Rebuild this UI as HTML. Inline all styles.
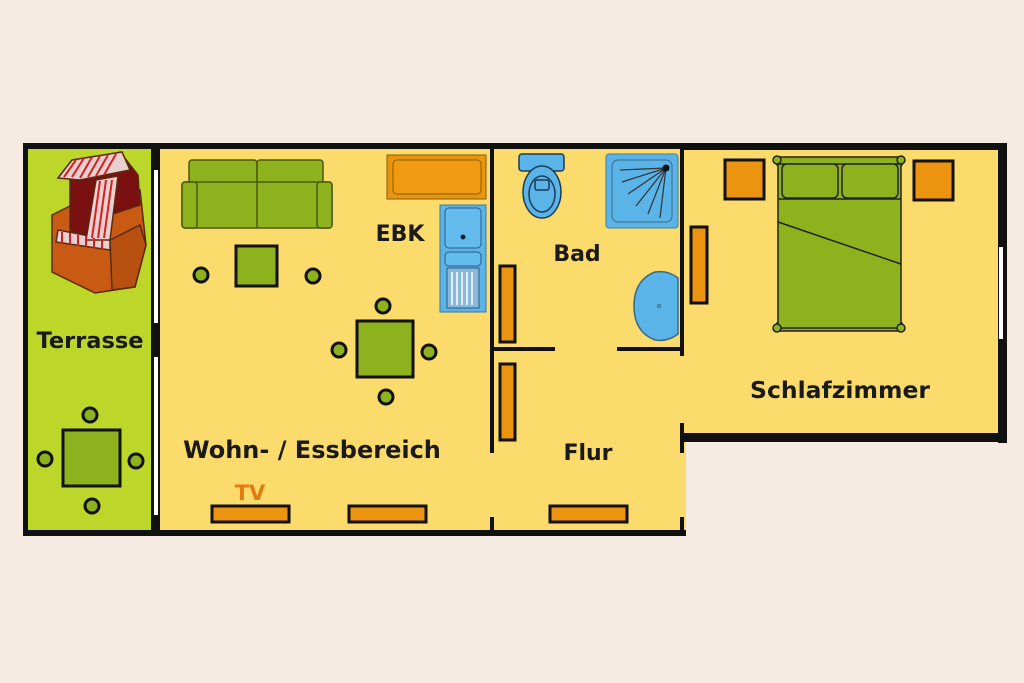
<!DOCTYPE html>
<html><head><meta charset="utf-8"><style>
html,body{margin:0;padding:0;background:#f6ebe3;}
svg{display:block}
text{font-family:"DejaVu Sans","Liberation Sans",sans-serif;font-weight:bold;}
</style></head><body>
<svg width="1024" height="683" viewBox="0 0 1024 683" xmlns="http://www.w3.org/2000/svg">
<rect width="1024" height="683" fill="#f6ebe3"/>
<!-- floors -->
<rect x="24" y="145" width="132" height="390" fill="#bdd62a"/>
<rect x="156" y="148" width="530" height="384" fill="#fbdb6c"/>
<rect x="683" y="148" width="320" height="292" fill="#fbdb6c"/>
<!-- outer walls -->
<g fill="#111">
<rect x="23" y="143" width="663" height="6"/>
<rect x="683" y="143" width="324" height="7"/>
<rect x="23" y="143" width="5" height="393"/>
<rect x="23" y="530" width="663" height="6"/>
<rect x="151" y="143" width="9" height="393"/>
<rect x="998" y="143" width="9" height="300"/>
<rect x="683" y="433" width="324" height="9"/>
<rect x="490" y="148" width="4" height="305"/>
<rect x="490" y="517" width="4" height="16"/>
<rect x="680" y="148" width="4" height="208"/>
<rect x="680" y="423" width="4" height="30"/>
<rect x="680" y="517" width="4" height="16"/>
<rect x="492" y="347" width="63" height="4"/>
<rect x="617" y="347" width="66" height="4"/>
</g>
<!-- windows -->
<rect x="154" y="170" width="4" height="153" fill="#fff"/>
<rect x="154" y="357" width="4" height="158" fill="#fff"/>
<rect x="999" y="247" width="4" height="92" fill="#fff"/>

<!-- beach chair -->
<g stroke="#5a2a10" stroke-width="1.5">
<path d="M52 215 L72 205 L140 190 L146 245 L135 287 L95 293 L52 272 Z" fill="#c85a14"/>
<path d="M70 170 L120 152 L138 175 L140 205 L110 215 L95 245 L70 240 Z" fill="#7a1010"/>
<path d="M58 178 L72 160 L122 152 L130 170 L80 180 Z" fill="#e8d0d0"/>
<path d="M58 230 L110 240 L110 250 L56 242 Z" fill="#e8d0d0"/>
<path d="M96 180 L118 176 L110 240 L86 240 Z" fill="#e8d0d0"/>
<path d="M110 240 L140 225 L146 245 L135 287 L112 290 Z" fill="#b85012"/>
</g>
<g stroke="#d42020" stroke-width="2">
<line x1="64" y1="177" x2="76" y2="160"/><line x1="72" y1="177" x2="84" y2="158"/><line x1="80" y1="178" x2="92" y2="157"/><line x1="88" y1="177" x2="100" y2="156"/><line x1="96" y1="176" x2="108" y2="155"/><line x1="104" y1="175" x2="116" y2="154"/>
<line x1="98" y1="238" x2="106" y2="180"/><line x1="104" y1="238" x2="112" y2="180"/><line x1="92" y1="238" x2="100" y2="181"/>
<line x1="62" y1="232" x2="62" y2="243"/><line x1="70" y1="233" x2="70" y2="244"/><line x1="78" y1="235" x2="78" y2="246"/><line x1="86" y1="236" x2="86" y2="247"/><line x1="94" y1="238" x2="94" y2="248"/><line x1="102" y1="239" x2="102" y2="249"/>
</g>

<!-- terrace table -->
<g fill="#8db21e" stroke="#111" stroke-width="3">
<rect x="63" y="430" width="57" height="56"/>
<circle cx="90" cy="415" r="7"/><circle cx="92" cy="506" r="7"/><circle cx="45" cy="459" r="7"/><circle cx="136" cy="461" r="7"/>
<rect x="236" y="246" width="41" height="40"/>
<circle cx="201" cy="275" r="7"/><circle cx="313" cy="276" r="7"/>
<rect x="357" y="321" width="56" height="56"/>
<circle cx="383" cy="306" r="7"/><circle cx="386" cy="397" r="7"/><circle cx="339" cy="350" r="7"/><circle cx="429" cy="352" r="7"/>
</g>
<!-- sofa -->
<g fill="#8db21e" stroke="#4a5a10" stroke-width="1.5">
<rect x="189" y="160" width="68" height="24" rx="3"/><rect x="257" y="160" width="66" height="24" rx="3"/>
<rect x="182" y="182" width="150" height="46" rx="3"/>
<rect x="182" y="182" width="15" height="46" rx="3"/><rect x="317" y="182" width="15" height="46" rx="3"/>
<line x1="257" y1="182" x2="257" y2="228"/>
</g>
<!-- kitchen -->
<rect x="387" y="155" width="99" height="44" fill="#e8960e" stroke="#8a5a10" stroke-width="1"/>
<rect x="393" y="160" width="88" height="34" rx="4" fill="#ef9a10" stroke="#8a5a10" stroke-width="1"/>
<rect x="440" y="205" width="46" height="107" fill="#5ab4e8" stroke="#3a78a8" stroke-width="1"/>
<rect x="445" y="208" width="36" height="40" rx="4" fill="#64bcee" stroke="#2a5a88"/>
<circle cx="463" cy="237" r="2.5" fill="#123"/>
<rect x="445" y="252" width="36" height="14" rx="4" fill="#64bcee" stroke="#2a5a88"/>
<rect x="447" y="268" width="32" height="40" fill="#8ab8d8" stroke="#2a5a88"/>
<g stroke="#fff" stroke-width="1.5"><line x1="452" y1="272" x2="452" y2="305"/><line x1="457" y1="272" x2="457" y2="305"/><line x1="462" y1="272" x2="462" y2="305"/><line x1="467" y1="272" x2="467" y2="305"/><line x1="472" y1="272" x2="472" y2="305"/></g>

<!-- orange furniture -->
<g fill="#ec9410" stroke="#111" stroke-width="3">
<rect x="212" y="506" width="77" height="16"/>
<rect x="349" y="506" width="77" height="16"/>
<rect x="500" y="266" width="15" height="76"/>
<rect x="500" y="364" width="15" height="76"/>
<rect x="550" y="506" width="77" height="16"/>
<rect x="691" y="227" width="16" height="76"/>
<rect x="725" y="160" width="39" height="39"/>
<rect x="914" y="161" width="39" height="39"/>
</g>

<!-- toilet -->
<g fill="#5ab4e8" stroke="#1a3a58" stroke-width="1.5">
<rect x="519" y="154" width="45" height="17" rx="3"/>
<ellipse cx="542" cy="192" rx="19" ry="26"/>
<ellipse cx="542" cy="194" rx="13" ry="18"/>
<rect x="535" y="180" width="14" height="10" rx="2"/>
</g>
<!-- shower -->
<rect x="606" y="154" width="72" height="74" rx="3" fill="#5ab4e8" stroke="#4a7a9a"/>
<rect x="612" y="160" width="60" height="62" rx="6" fill="none" stroke="#3a6a8a"/>
<g stroke="#333" stroke-width="1.2" fill="none">
<path d="M666 168 L620 170"/><path d="M666 168 L622 182"/><path d="M666 168 L628 194"/><path d="M666 168 L636 206"/><path d="M666 168 L648 214"/><path d="M666 168 L660 218"/>
</g>
<circle cx="666" cy="168" r="3.5" fill="#111"/>
<!-- basin -->
<path d="M678 278 Q668 270 655 272 Q634 280 634 306 Q634 332 655 340 Q668 342 678 334 Z" fill="#5ab4e8" stroke="#3a6a8a" stroke-width="1.5"/>
<circle cx="659" cy="306" r="1.5" fill="none" stroke="#3a6a8a"/>

<!-- bed -->
<g stroke="#222" stroke-width="1.5">
<rect x="777" y="157" width="125" height="8" fill="#8db21e"/>
<rect x="777" y="323" width="125" height="8" fill="#8db21e"/>
<rect x="778" y="164" width="123" height="164" fill="#8db21e"/>
<rect x="782" y="164" width="56" height="34" rx="5" fill="#8db21e"/>
<rect x="842" y="164" width="56" height="34" rx="5" fill="#8db21e"/>
<path d="M778 222 L901 264" fill="none"/>
<line x1="778" y1="199" x2="901" y2="199"/>
<circle cx="777" cy="160" r="4" fill="#8db21e"/><circle cx="901" cy="160" r="4" fill="#8db21e"/>
<circle cx="777" cy="328" r="4" fill="#8db21e"/><circle cx="901" cy="328" r="4" fill="#8db21e"/>
</g>

<!-- labels -->
<g fill="#1a1a1a" text-anchor="middle">
<text x="90" y="348" font-size="22.5">Terrasse</text>
<text x="400" y="241" font-size="22">EBK</text>
<text x="312" y="458" font-size="24">Wohn- / Essbereich</text>
<text x="577" y="261" font-size="22">Bad</text>
<text x="588" y="460" font-size="22">Flur</text>
<text x="840" y="398" font-size="23.5">Schlafzimmer</text>
</g>
<text x="250" y="500" font-size="21" fill="#e27a10" text-anchor="middle">TV</text>
</svg>
</body></html>
